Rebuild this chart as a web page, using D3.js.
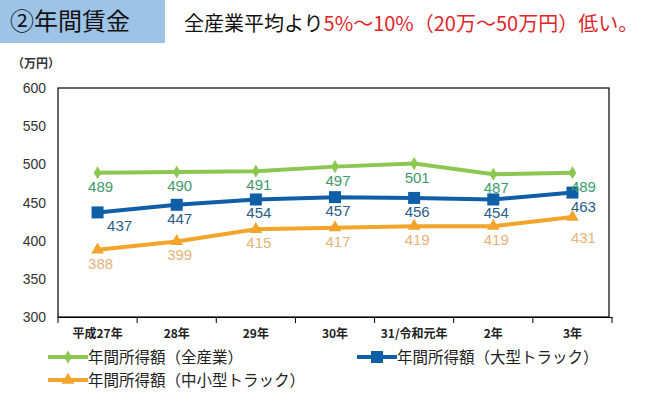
<!DOCTYPE html>
<html><head><meta charset="utf-8">
<script src="https://cdn.jsdelivr.net/npm/d3@7"></script>
<style>body{margin:0;background:#fff;}svg{display:block;font-family:"Noto Sans CJK JP","Liberation Sans",sans-serif;}</style>
</head><body>
<svg id="c" width="648" height="409"></svg>
<script>
const categories = ["平成27年","28年","29年","30年","31/令和元年","2年","3年"];
const allIndustry = [489,490,491,497,501,487,489];
const largeTruck = [437,447,454,457,456,454,463];
const smallTruck = [388,399,415,417,419,419,431];
const yTicks = [300,350,400,450,500,550,600];
const seriesNames = ["年間所得額（全産業）","年間所得額（大型トラック）","年間所得額（中小型トラック）"];

const svg = d3.select("#c");
// title box
svg.append("rect").attr("x",0).attr("y",0).attr("width",165).attr("height",43).attr("fill","#9DC3E6");
svg.append("text").attr("x",10).attr("y",30).attr("font-size",24).attr("fill","#111").text("②年間賃金");
const sub = svg.append("text").attr("x",184).attr("y",31).attr("font-size",20).attr("fill","#111");
sub.append("tspan").text("全産業平均より");
sub.append("tspan").attr("fill","#E0252A").text("5%～10%（20万～50万円）低い。");

const L=58,R=612,T=88,B=317;
const x = d3.scaleBand().domain(categories).range([L,R]);
const y = d3.scaleLinear().domain([300,600]).range([B,T]);

// frame
svg.append("rect").attr("x",L).attr("y",T).attr("width",R-L-3).attr("height",B-T).attr("fill","none").attr("stroke","#000").attr("stroke-width",1.2);

// y axis labels
svg.append("g").selectAll("text").data(yTicks).join("text")
  .attr("x",46).attr("y",d=>y(d)+5).attr("text-anchor","end").attr("font-size",14)
  .attr("font-family","Liberation Sans, Arial, sans-serif").attr("fill","#333").text(d=>d);
svg.append("text").attr("x",12).attr("y",68).attr("font-size",12).attr("font-weight","bold").attr("fill","#333").text("（万円）");

// x axis
const xa = d3.axisBottom(x).tickSize(0).tickFormat("");
svg.append("g").attr("transform",`translate(0,${B})`).call(xa).call(g=>g.select(".domain").attr("stroke","#000"));
const bounds = categories.map((c,i)=>x(c)).concat([R]);
svg.append("g").selectAll("line").data(bounds).join("line")
  .attr("x1",d=>d).attr("x2",d=>d).attr("y1",B).attr("y2",B+6).attr("stroke","#000");
svg.append("g").selectAll("text").data(categories).join("text")
  .attr("x",d=>x(d)+x.bandwidth()/2).attr("y",338).attr("text-anchor","middle")
  .attr("font-size",12).attr("font-weight","bold").attr("fill","#222").text(d=>d);

const series = [
  {vals:allIndustry,color:"#8CC751",lab:"#3E9A6C",marker:"diamond",name:seriesNames[0]},
  {vals:largeTruck,color:"#0F5FA8",lab:"#2A5E86",marker:"square",name:seriesNames[1]},
  {vals:smallTruck,color:"#F2A52A",lab:"#E6B37A",marker:"triangle",name:seriesNames[2]}
];
const cx = i=>x(categories[i])+x.bandwidth()/2;
const line = d3.line().x((d,i)=>cx(i)).y(d=>y(d));
function marker(g,type,color){
  if(type==="diamond") g.append("path").attr("d",d3.symbol(d3.symbolDiamond,50)()).attr("fill",color);
  else if(type==="square") g.append("rect").attr("x",-6).attr("y",-6).attr("width",12).attr("height",12).attr("fill",color);
  else g.append("path").attr("d",d3.symbol(d3.symbolTriangle,70)()).attr("fill",color);
}
series.forEach((s,si)=>{
  svg.append("path").datum(s.vals).attr("d",line).attr("fill","none").attr("stroke",s.color).attr("stroke-width",4);
  s.vals.forEach((v,i)=>{
    const g = svg.append("g").attr("transform",`translate(${cx(i)},${y(v)})`);
    marker(g,s.marker,s.color);
  });
});
series.forEach((s,si)=>{
  svg.append("g").selectAll("text").data(s.vals).join("text")
    .attr("x",(d,i)=>cx(i)+(i===6?11:(si===1&&i===0?22:3)))
    .attr("y",(d,i)=>y(d)+(si===2&&i===6?26:19))
    .attr("text-anchor","middle").attr("font-size",15)
    .attr("font-family","Liberation Sans, Arial, sans-serif")
    .attr("fill",s.lab).text(d=>d);
});

// legend
const leg = [{x:48,y:357,s:series[0]},{x:357,y:357,s:series[1]},{x:48,y:380,s:series[2]}];
leg.forEach(l=>{
  svg.append("line").attr("x1",l.x).attr("x2",l.x+40).attr("y1",l.y).attr("y2",l.y).attr("stroke",l.s.color).attr("stroke-width",4);
  const g = svg.append("g").attr("transform",`translate(${l.x+20},${l.y})`);
  marker(g,l.s.marker,l.s.color);
  svg.append("text").attr("x",l.x+40).attr("y",l.y+6).attr("font-size",15.5).attr("fill","#222").text(l.s.name);
});
</script>
</body></html>
